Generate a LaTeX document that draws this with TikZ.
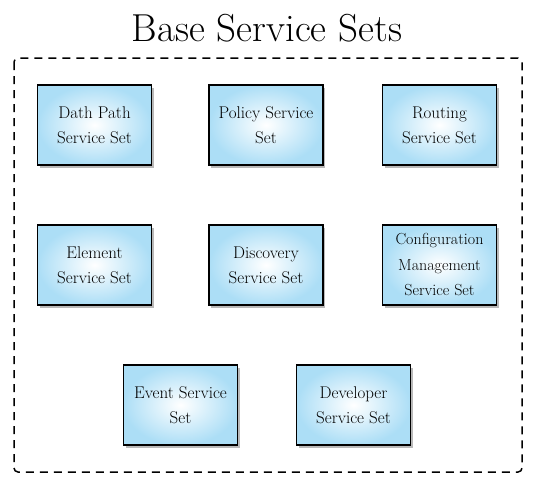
\documentclass[tikz,border=0pt]{standalone}
\usepackage{tikz}
\usetikzlibrary{shadows}

\definecolor{setblue}{RGB}{172,222,246}

\begin{document}
\begin{tikzpicture}[x=1pt,y=-1pt,
        serviceset/.style={draw=black, line width=1.7pt, minimum width=114pt, minimum height=80pt,
            shading=radial, inner color=white, outer color=setblue,
            drop shadow={shadow xshift=2pt, shadow yshift=-3pt, opacity=0.55},
            align=center, font=\fontsize{17}{25}\selectfont, inner sep=1pt}]
        \useasboundingbox (0,0) rectangle (534,483);

        \node (title) at (267,28) {\fontsize{39}{44}\selectfont Base Service Sets};
        \draw[line width=1.5pt, dash pattern=on 8pt off 6pt, rounded corners=4pt] (14,58) rectangle (522,472);

        \node[serviceset] (datapath) at (94.5,125) {Dath Path\\Service Set};
        \node[serviceset] (policy) at (266,125) {Policy Service\\Set};
        \node[serviceset] (routing) at (439.5,125) {Routing\\Service Set};

        \node[serviceset] (element) at (94.5,265) {Element\\Service Set};
        \node[serviceset] (discovery) at (266,265) {Discovery\\Service Set};
        \node[serviceset, font=\fontsize{16}{25.5}\selectfont] (config) at (439.5,265) {Configuration\\Management\\Service Set};

        \node[serviceset] (event) at (180.5,405) {Event Service\\Set};
        \node[serviceset] (developer) at (353.5,405) {Developer\\Service Set};
    \end{tikzpicture}
\end{document}
